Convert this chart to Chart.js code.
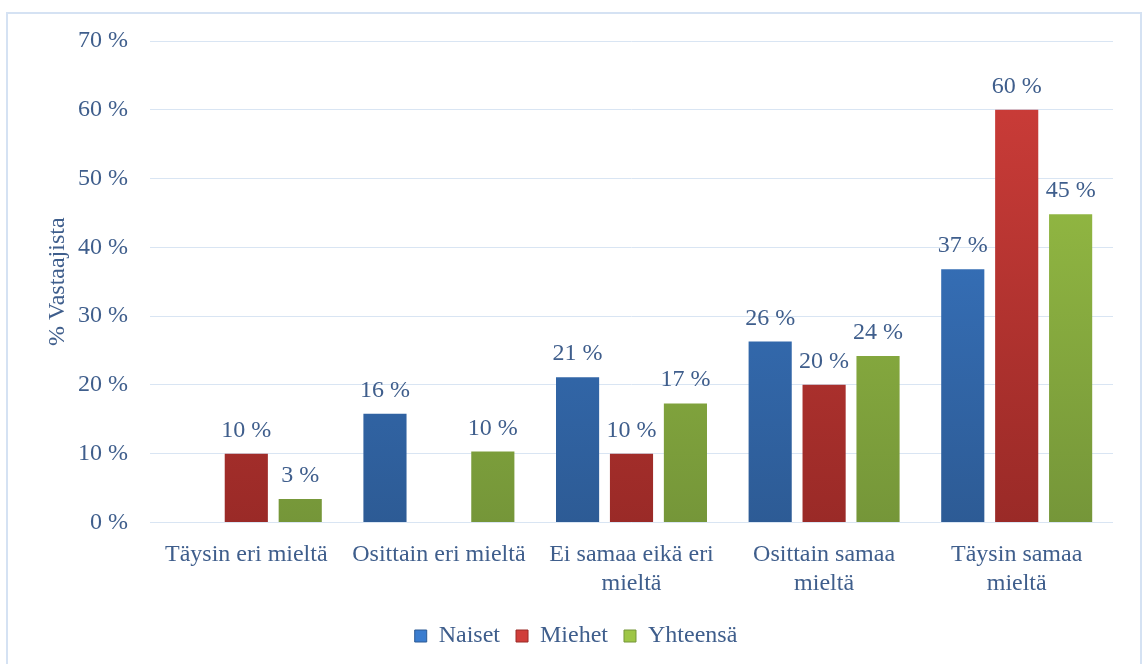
<!DOCTYPE html>
<html>
<head>
<meta charset="utf-8">
<script src="https://cdn.jsdelivr.net/npm/chart.js@4.4.0/dist/chart.umd.min.js"></script>
<style>
  html, body { margin: 0; padding: 0; background: #fff; }
  #wrap { position: relative; width: 1142px; height: 664px; overflow: hidden; }
  #frame { position: absolute; left: 6px; top: 12px; width: 1136px; height: 670px; border: 2px solid #D5E2F3; box-sizing: border-box; pointer-events: none; }
  canvas { position: absolute; left: 0; top: 0; }
</style>
</head>
<body>
<div id="wrap">
  <canvas id="chart" width="1142" height="664"></canvas>
  <div id="frame"></div>
</div>
<script>
const categories = [
  "Täysin eri mieltä",
  "Osittain eri mieltä",
  ["Ei samaa eikä eri", "mieltä"],
  ["Osittain samaa", "mieltä"],
  ["Täysin samaa", "mieltä"]
];
const seriesNames = ["Naiset", "Miehet", "Yhteensä"];
const naiset = [0, 15.8, 21.1, 26.3, 36.8];
const miehet = [10, 0, 10, 20, 60];
const yhteensa = [3.4, 10.3, 17.3, 24.2, 44.8];
const yTicks = [0, 10, 20, 30, 40, 50, 60, 70];

const textColor = "#3F5E8C";
const fontFamily = "'Liberation Serif', 'DejaVu Serif', serif";
const fontSize = 24;

// top / bottom colours of the gradient fill per series
const gradColors = [
  ["#3B7DCF", "#2D5B95"],
  ["#D03E3A", "#9A2A27"],
  ["#9EC646", "#759639"]
];

function gradientFor(i) {
  return function (context) {
    const chart = context.chart;
    const area = chart.chartArea;
    if (!area) return gradColors[i][0];
    const g = chart.ctx.createLinearGradient(0, area.top, 0, area.bottom);
    g.addColorStop(0, gradColors[i][0]);
    g.addColorStop(1, gradColors[i][1]);
    return g;
  };
}

// value labels above the bars
const valueLabels = {
  id: "valueLabels",
  afterDatasetsDraw(chart) {
    const ctx = chart.ctx;
    ctx.save();
    ctx.fillStyle = textColor;
    ctx.font = fontSize + "px " + fontFamily;
    ctx.textAlign = "center";
    ctx.textBaseline = "alphabetic";
    chart.data.datasets.forEach((ds, i) => {
      const meta = chart.getDatasetMeta(i);
      meta.data.forEach((bar, j) => {
        const v = ds.data[j];
        if (!v) return;
        ctx.fillText(Math.round(v) + " %", bar.x, bar.y - 17);
      });
    });
    ctx.restore();
  }
};

const ctx = document.getElementById("chart").getContext("2d");
new Chart(ctx, {
  type: "bar",
  data: {
    labels: categories,
    datasets: [naiset, miehet, yhteensa].map((d, i) => ({
      label: seriesNames[i],
      data: d,
      backgroundColor: gradientFor(i),
      barPercentage: 0.8,
      categoryPercentage: 0.84
    }))
  },
  options: {
    responsive: false,
    animation: false,
    layout: { padding: { left: 39, right: 29, top: 41, bottom: 6 } },
    plugins: {
      legend: {
        position: "bottom",
        labels: {
          color: textColor,
          font: { family: fontFamily, size: fontSize },
          boxWidth: 12,
          boxHeight: 12,
          padding: 16,
          generateLabels(chart) {
            return chart.data.datasets.map((ds, i) => ({
              text: ds.label,
              fillStyle: gradColors[i][0],
              strokeStyle: gradColors[i][1],
              lineWidth: 1,
              fontColor: textColor,
              datasetIndex: i
            }));
          }
        }
      },
      tooltip: { enabled: false }
    },
    scales: {
      x: {
        grid: { display: false },
        border: { display: false },
        ticks: {
          color: textColor,
          font: { family: fontFamily, size: fontSize },
          maxRotation: 0,
          padding: 10
        }
      },
      y: {
        min: 0,
        max: 70,
        afterFit(scale) { scale.width = 111; },
        afterBuildTicks(scale) { scale.ticks = yTicks.map(v => ({ value: v })); },
        grid: { color: "#D9E5F3", lineWidth: 1, drawTicks: false },
        border: { display: false },
        ticks: {
          color: textColor,
          font: { family: fontFamily, size: fontSize },
          padding: 22,
          callback: v => v + " %"
        },
        title: {
          display: true,
          text: "% Vastaajista",
          color: textColor,
          font: { family: fontFamily, size: fontSize }
        }
      }
    }
  },
  plugins: [valueLabels]
});
</script>
</body>
</html>
